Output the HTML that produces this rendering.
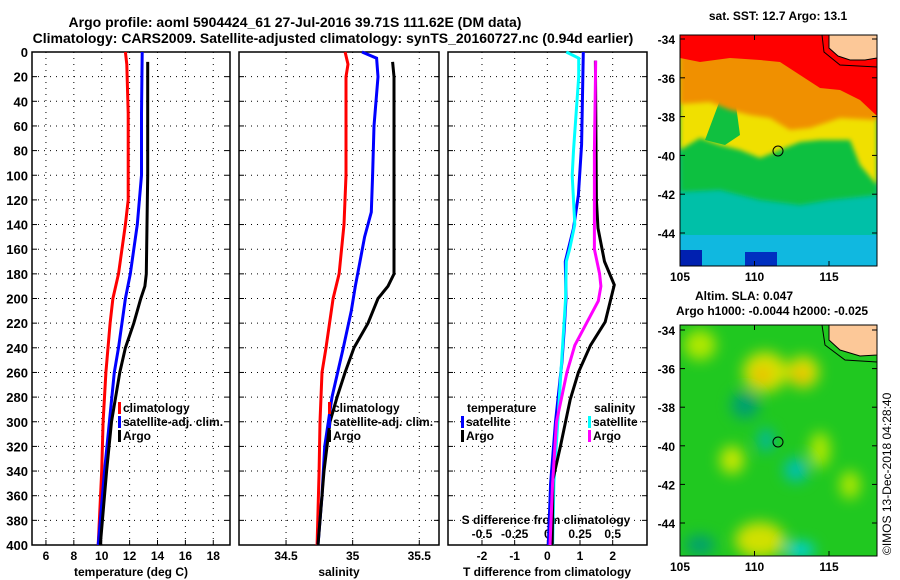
<!DOCTYPE html>
<html><head><meta charset="utf-8"><style>
body{margin:0;background:#fff;}
svg{display:block;font-family:"Liberation Sans",sans-serif;font-weight:bold;}
</style></head><body>
<svg id="c" width="900" height="580" viewBox="0 0 900 580">
<defs><filter id="bl"><feGaussianBlur stdDeviation="7"/></filter>
<clipPath id="m1"><rect x="680" y="35" width="197" height="231"/></clipPath>
<clipPath id="m2"><rect x="680" y="325" width="197" height="231"/></clipPath>
<filter id="bl2"><feGaussianBlur stdDeviation="2.5"/></filter></defs>
<text x="295" y="27" font-size="14" text-anchor="middle">Argo profile: aoml 5904424_61 27-Jul-2016 39.71S 111.62E (DM data)</text>
<text x="333" y="43" font-size="14" text-anchor="middle">Climatology: CARS2009. Satellite-adjusted climatology: synTS_20160727.nc (0.94d earlier)</text>
<g id="plots"></g>
<g clip-path="url(#m1)">
<rect x="680" y="35" width="197" height="231" fill="#00c0a8"/>
<rect x="680" y="235" width="197" height="31" fill="#10b8e0"/>
<polygon points="680,35 877,35 877,195 830,200 800,205 760,200 720,190 680,192" fill="#10c040" filter="url(#bl2)"/>
<polygon points="680,35 877,35 877,185 860,165 850,140 820,140 800,142 780,150 760,158 740,150 720,145 700,138 680,150" fill="#f0e000" filter="url(#bl2)"/>
<polygon points="705,140 720,100 735,98 740,135 725,145" fill="#10c040"/>
<polygon points="680,35 877,35 877,120 840,118 810,128 790,130 770,118 750,115 730,110 710,102 680,104" fill="#f09000" filter="url(#bl2)"/>
<polygon points="680,35 877,35 877,116 860,100 840,90 820,88 800,75 780,62 760,60 730,58 700,62 680,58" fill="#ff0000"/>
<rect x="680" y="250" width="22" height="16" fill="#0020b0"/>
<rect x="745" y="252" width="32" height="14" fill="#0030c0"/>
<polygon points="829,35 829,48 838,56 850,60 865,60 877,58 877,35" fill="#fcc898" stroke="#000" stroke-width="1"/>
<polyline points="822,35 824,52 840,65 877,67" fill="none" stroke="#000" stroke-width="1"/>
<circle cx="778" cy="151" r="5" fill="none" stroke="#000" stroke-width="1"/>
</g>
<rect x="680" y="35" width="197" height="231" fill="none" stroke="#000"/>
<g clip-path="url(#m2)">
<rect x="680" y="325" width="197" height="231" fill="#20c820"/>
<g filter="url(#bl)">
<ellipse cx="765" cy="372" rx="22" ry="20" fill="#d8e000"/>
<ellipse cx="803" cy="372" rx="16" ry="16" fill="#d8e000"/>
<ellipse cx="762" cy="375" rx="8" ry="7" fill="#f0b000"/>
<ellipse cx="801" cy="375" rx="7" ry="7" fill="#f0b000"/>
<ellipse cx="732" cy="460" rx="12" ry="14" fill="#c8e800"/>
<ellipse cx="760" cy="540" rx="25" ry="18" fill="#d0e000"/>
<ellipse cx="820" cy="450" rx="10" ry="18" fill="#b0e800"/>
<ellipse cx="850" cy="485" rx="10" ry="14" fill="#b0e800"/>
<ellipse cx="700" cy="345" rx="16" ry="15" fill="#b0e800"/>
<ellipse cx="745" cy="405" rx="14" ry="14" fill="#00a070"/>
<ellipse cx="766" cy="440" rx="8" ry="12" fill="#00b8a0"/>
<ellipse cx="796" cy="470" rx="12" ry="12" fill="#00c0b0"/>
<ellipse cx="800" cy="550" rx="15" ry="8" fill="#00d0e0"/>
<ellipse cx="700" cy="545" rx="15" ry="10" fill="#00a070"/>
</g>
<polygon points="829,325 829,340 840,350 860,356 877,355 877,325" fill="#fcc898" stroke="#000" stroke-width="1"/>
<polyline points="822,325 825,345 845,360 877,362" fill="none" stroke="#000" stroke-width="1"/>
<circle cx="778" cy="442" r="5" fill="none" stroke="#000" stroke-width="1"/>
</g>
<rect x="680" y="325" width="197" height="231" fill="none" stroke="#000"/>
<text x="778" y="20" font-size="12" text-anchor="middle">sat. SST: 12.7 Argo: 13.1</text>
<text x="695" y="300" font-size="12">Altim. SLA: 0.047</text>
<text x="676" y="315" font-size="12">Argo h1000: -0.0044 h2000: -0.025</text>
<text transform="translate(891,555) rotate(-90)" font-size="12" font-weight="normal">©IMOS 13-Dec-2018 04:28:40</text>
<g id="maps"></g>
</svg>
<script>
const depthTicks=[0,20,40,60,80,100,120,140,160,180,200,220,240,260,280,300,320,340,360,380,400];
const tempTicks=[6,8,10,12,14,16,18];
const salTicks=[34.5,35,35.5];
const tdiffTicks=[-2,-1,0,1,2];
const sdiffTicks=[-0.5,-0.25,0,0.25,0.5];
const sdiffLabels=["-0.5","-0.25","0","0.25","0.5"];
const latTicks=[-34,-36,-38,-40,-42,-44];
const lonTicks=[105,110,115];

const climTDepth=[0,10,50,120,140,180,200,220,260,300,340,400];
const climT=[11.7,11.8,11.9,11.9,11.7,11.2,10.8,10.6,10.3,10.1,10.0,9.75];
const satTDepth=[0,50,100,140,180,200,240,260,300,340,400];
const satT=[12.9,12.85,12.85,12.55,12.05,11.7,11.2,10.9,10.55,10.2,9.75];
const argoTDepth=[8,100,180,190,200,220,240,260,300,340,400];
const argoT=[13.3,13.3,13.2,13.1,12.8,12.3,11.7,11.3,10.7,10.35,9.9];

const climSDepth=[0,10,20,100,140,180,200,240,260,300,340,400];
const climS=[34.943,34.965,34.95,34.95,34.935,34.898,34.853,34.80,34.77,34.755,34.748,34.733];
const satSDepth=[0,5,20,60,100,130,150,170,190,210,240,280,320,360,400];
const satS=[35.07,35.18,35.19,35.16,35.15,35.14,35.09,35.055,35.02,34.99,34.93,34.845,34.79,34.77,34.74];
const argoSDepth=[8,20,100,180,190,200,220,240,260,280,300,340,400];
const argoS=[35.30,35.31,35.31,35.31,35.265,35.19,35.115,35.01,34.943,34.883,34.83,34.785,34.74];

const tSatDiffDepth=[0,75,116,143,170,200,224,251,300,350,400];
const tSatDiff=[1.1,1.05,0.95,0.8,0.55,0.57,0.52,0.45,0.25,0.1,0.03];
const sSatDiffDepth=[0,5,20,80,100,140,160,170,200,250,300,350,400];
const sSatDiff=[0.145,0.24,0.24,0.2,0.19,0.21,0.17,0.145,0.14,0.11,0.08,0.05,0.04];
const tArgoDiffDepth=[7,120,143,170,189,219,238,260,282,320,347,400];
const tArgoDiff=[1.47,1.5,1.55,1.75,2.05,1.77,1.32,0.95,0.7,0.4,0.17,0.15];
const sArgoDiffDepth=[7,80,160,180,190,202,220,238,260,300,350,400];
const sArgoDiff=[0.37,0.36,0.36,0.4,0.41,0.39,0.3,0.21,0.15,0.07,0.04,0.02];

const NS="http://www.w3.org/2000/svg";
const root=document.getElementById('plots');
function mk(tag,attrs,parent){const e=document.createElementNS(NS,tag);for(const k in attrs)e.setAttribute(k,attrs[k]);(parent||root).appendChild(e);return e;}
const Y0=52,Y1=545;
function yD(d){return Y0+(d/400)*(Y1-Y0);}
const panels=[
 {x0:32,x1:230,min:5,max:19.2,name:'temperature-panel'},
 {x0:239,x1:439,min:34.147,max:35.648,name:'salinity-panel'},
 {x0:448,x1:647,min:-3.04,max:3.05,name:'difference-panel'}];
function sx(p,v){return p.x0+(v-p.min)/(p.max-p.min)*(p.x1-p.x0);}
function grid(p,ticks){
 const g=mk('g',{});
 
 
 depthTicks.forEach(d=>{if(d>0&&d<400)mk('line',{x1:p.x0,x2:p.x1,y1:yD(d),y2:yD(d),stroke:'#000','stroke-dasharray':'1,5','stroke-width':1},g);
  mk('line',{x1:p.x0,x2:p.x0+5,y1:yD(d),y2:yD(d),stroke:'#000'},g);mk('line',{x1:p.x1-5,x2:p.x1,y1:yD(d),y2:yD(d),stroke:'#000'},g);});
 ticks.forEach(v=>{const x=sx(p,v);mk('line',{x1:x,x2:x,y1:Y0,y2:Y1,stroke:'#000','stroke-dasharray':'1,5'},g);
  mk('line',{x1:x,x2:x,y1:Y1-5,y2:Y1,stroke:'#000'},g);});
 const r=mk('rect',{x:p.x0,y:Y0,width:p.x1-p.x0,height:Y1-Y0,fill:'none',stroke:'#000','stroke-width':1.5});
 
 
}
function line(p,vals,depths,color,name){
 const pts=vals.map((v,i)=>sx(p,v).toFixed(1)+','+yD(depths[i]).toFixed(1)).join(' ');
 const l=mk('polyline',{points:pts,fill:'none',stroke:color,'stroke-width':3,'stroke-linejoin':'miter'});
 
 
}
function txt(x,y,s,name,anchor,size,parent){const t=mk('text',{x:x,y:y,'font-size':size||12,'text-anchor':anchor||'start'},parent);t.textContent=s;
 
 return t;}

grid(panels[0],tempTicks);grid(panels[1],salTicks);grid(panels[2],tdiffTicks);
depthTicks.forEach(d=>txt(28,yD(d)+5,String(d),'depth-tick-label','end',13));
tempTicks.forEach(v=>txt(sx(panels[0],v),560,String(v),'temp-tick-label','middle'));
salTicks.forEach(v=>txt(sx(panels[1],v),560,String(v),'salinity-tick-label','middle'));
tdiffTicks.forEach(v=>txt(sx(panels[2],v),560,String(v),'tdiff-tick-label','middle'));
sdiffTicks.forEach((v,i)=>txt(sx(panels[2],v*4),538,sdiffLabels[i],'sdiff-tick-label','middle'));
txt(131,576,'temperature (deg C)','temp-axis-title','middle');
txt(339,576,'salinity','salinity-axis-title','middle');
txt(547,576,'T difference from climatology','tdiff-axis-title','middle');
txt(546,524,'S difference from climatology','sdiff-axis-title','middle');

line(panels[0],climT,climTDepth,'#ff0000','temp-climatology-line');
line(panels[0],satT,satTDepth,'#0000ff','temp-satellite-line');
line(panels[0],argoT,argoTDepth,'#000','temp-argo-line');
line(panels[1],climS,climSDepth,'#ff0000','sal-climatology-line');
line(panels[1],satS,satSDepth,'#0000ff','sal-satellite-line');
line(panels[1],argoS,argoSDepth,'#000','sal-argo-line');
line(panels[2],tSatDiff,tSatDiffDepth,'#0000ff','tdiff-satellite-line');
line(panels[2],sSatDiff.map(v=>v*4),sSatDiffDepth,'#00ffff','sdiff-satellite-line');
line(panels[2],tArgoDiff,tArgoDiffDepth,'#000','tdiff-argo-line');
line(panels[2],sArgoDiff.map(v=>v*4),sArgoDiffDepth,'#ff00ff','sdiff-argo-line');

function legend(x,items){items.forEach((it,i)=>{const y=412+i*14;
 if(it[1])mk('rect',{x:x,y:y-10,width:3,height:12,fill:it[1]});
 if(it[0])txt(x+5,y,it[0],'legend-entry');});}
legend(118,[['climatology','#ff0000'],['satellite-adj. clim.','#0000ff'],['Argo','#000']]);
legend(328,[['climatology','#ff0000'],['satellite-adj. clim.','#0000ff'],['Argo','#000']]);
txt(467,412,'temperature','legend-title');
legend(461,[['',null],['satellite','#0000ff'],['Argo','#000']]);
txt(594,412,'salinity','legend-title');
legend(588,[['',null],['satellite','#00ffff'],['Argo','#ff00ff']]);

const maps=document.getElementById('maps');
[[35,39,19.4,281],[325,330,19.3,571]].forEach(m=>{
 latTicks.forEach(la=>{const yy=m[1]+(-34-la)*m[2];
  mk('line',{x1:680,x2:685,y1:yy,y2:yy,stroke:'#000'},maps);mk('line',{x1:872,x2:877,y1:yy,y2:yy,stroke:'#000'},maps);
  txt(675,yy+5,String(la),'map-lat-label','end',12,maps);});
 lonTicks.forEach(lo=>{const x=680+(lo-105)*14.9;
  mk('line',{x1:x,x2:x,y1:m[0]+231-5,y2:m[0]+231,stroke:'#000'},maps);mk('line',{x1:x,x2:x,y1:m[0],y2:m[0]+5,stroke:'#000'},maps);
  txt(x,m[3],String(lo),'map-lon-label','middle',12,maps);});
});
</script>
</body></html>
